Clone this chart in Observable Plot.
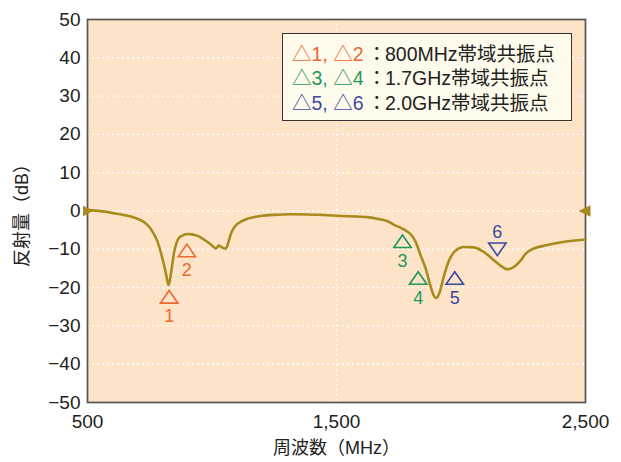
<!DOCTYPE html>
<html><head><meta charset="utf-8">
<script src="https://cdn.jsdelivr.net/npm/d3@7"></script>
<script src="https://cdn.jsdelivr.net/npm/@observablehq/plot@0.6"></script>
<style>
body{margin:0;background:#fff;}
#wrap{position:relative;width:621px;height:462px;font-family:"Liberation Sans","Noto Sans CJK JP",sans-serif;color:#222;}
#wrap svg{position:absolute;left:0;top:0;}
.legend{position:absolute;left:282px;top:33px;width:290px;height:88px;box-sizing:border-box;border:1.5px solid #333;background:#fffbec;}
.lg{position:absolute;font-size:19.5px;line-height:24px;height:24px;white-space:nowrap;}
</style></head><body><div id="wrap"></div>
<script>
// reflection curve (MHz, dB)
const freq = [500,560,607,650,687,727,750,761,780,794,805,814,820,825,830,837,848,858,868,885,902,920,942,962,982,1000,1015,1022,1028,1035,1042,1050,1055,1062,1069,1078,1089,1100,1116,1135,1156,1197,1250,1320,1384,1450,1518,1580,1625,1678,1710,1731,1758,1785,1800,1818,1838,1858,1878,1890,1898,1906,1915,1932,1952,1979,2012,2052,2092,2133,2166,2186,2213,2240,2260,2293,2347,2428,2500];
const refl = [0.3,-0.1,-0.6,-1.1,-1.7,-2.9,-4.3,-5.4,-7.8,-10.7,-13.5,-16.0,-18.0,-19.3,-18.3,-15.5,-10.7,-8.2,-7.0,-6.3,-6.0,-6.1,-6.5,-7.2,-8.1,-9.0,-9.8,-9.4,-9.0,-9.3,-9.6,-9.8,-9.8,-9.0,-7.4,-5.6,-4.3,-3.5,-2.8,-2.2,-1.8,-1.3,-1.0,-0.85,-0.9,-1.05,-1.3,-1.45,-1.6,-2.2,-2.8,-3.6,-4.4,-5.4,-6.2,-8.1,-11.6,-15.0,-19.7,-22.0,-22.7,-22.4,-21.1,-16.8,-12.9,-10.3,-9.4,-9.5,-10.7,-12.9,-14.6,-15.2,-14.6,-12.9,-11.1,-9.8,-8.9,-7.9,-7.5];

// resonance markers
const markerId = ["1","2","3","4","5","6"];
const markerFreq = [828,899,1765,1828,1975,2146];
const markerDb = [-22.4,-10.3,-7.9,-17.5,-17.5,-10.0];
const markerDir = ["up","up","up","up","up","down"];
const markerBand = [0,0,1,1,2,2];
const labelDb = [-27.5,-15.4,-13.0,-22.8,-22.8,-5.5];

const bandColors = ["#e9692f","#1c9a58","#3a4a9c"];
const legendMarks = ["△1, △2","△3, △4","△5, △6"];
const legendText = ["800MHz帯域共振点","1.7GHz帯域共振点","2.0GHz帯域共振点"];

const yTicks = [-50,-40,-30,-20,-10,0,10,20,30,40,50];
const xTicks = [500,1500,2500];
const refLevel = [0];

const curve = freq.map((f,i)=>({f, db: refl[i]}));
const markers = markerId.map((id,i)=>({id, f: markerFreq[i], db: markerDb[i], dir: markerDir[i], color: bandColors[markerBand[i]], ldb: labelDb[i]}));

const triUp = {draw(c){const w=8.7,h=6.3;c.moveTo(0,-h);c.lineTo(w,h);c.lineTo(-w,h);c.closePath();}};
const triDown = {draw(c){const w=8.7,h=6.3;c.moveTo(0,h);c.lineTo(w,-h);c.lineTo(-w,-h);c.closePath();}};
const triRight = {draw(c){c.moveTo(5,0);c.lineTo(-4.5,-5.5);c.lineTo(-4.5,5.5);c.closePath();}};
const triLeft = {draw(c){c.moveTo(-7,0);c.lineTo(5,-5.8);c.lineTo(5,5.8);c.closePath();}};

const fmtY = d => d < 0 ? "\u2212" + Math.abs(d) : String(d);
const lineColor = "#a88b1e";

const chart = Plot.plot({
  width: 621, height: 462,
  marginLeft: 87, marginRight: 36, marginTop: 19, marginBottom: 60,
  style: {fontFamily: '"Liberation Sans","Noto Sans CJK JP",sans-serif', fontSize: "19px", color: "#222", background: "transparent"},
  x: {domain: [500,2500], label: null},
  y: {domain: [-50,50], label: null},
  marks: [
    Plot.frame({fill: "#fde3c8", stroke: null}),
    Plot.ruleY(yTicks.filter(d => d > -50 && d < 50), {y: d => d, stroke: "white", strokeWidth: 1.4, strokeDasharray: "2,3"}),
    Plot.ruleX([1500], {x: d => d, stroke: "white", strokeWidth: 1.4, strokeDasharray: "2,3"}),
    Plot.frame({stroke: "#555", strokeWidth: 1.7}),
    Plot.axisY(yTicks, {tickSize: 0, tickPadding: 7, tickFormat: fmtY, fontSize: 19, label: null}),
    Plot.axisX(xTicks, {tickSize: 0, tickPadding: 12, tickFormat: d3.format(","), fontSize: 19, label: null}),
    Plot.text(["周波数（MHz）"], {frameAnchor: "bottom", dy: 46, fontSize: 18, textAnchor: "middle", lineAnchor: "middle"}),
    Plot.text(["反射量（dB）"], {frameAnchor: "left", dx: -65, rotate: -90, fontSize: 18, textAnchor: "middle", lineAnchor: "middle"}),
    Plot.line(curve, {x: "f", y: "db", stroke: lineColor, strokeWidth: 2.6, curve: "monotone-x"}),
    Plot.dot(markers.filter(d => d.dir === "up"), {x: "f", y: "db", symbol: triUp, stroke: "color", strokeWidth: 1.6, fill: "none"}),
    Plot.dot(markers.filter(d => d.dir === "down"), {x: "f", y: "db", symbol: triDown, stroke: "color", strokeWidth: 1.6, fill: "none"}),
    Plot.text(markers, {x: "f", y: "ldb", text: "id", fill: "color", fontSize: 18, lineAnchor: "middle"}),
    Plot.dot(refLevel, {x: () => 2500, y: d => d, symbol: triLeft, fill: lineColor, stroke: null}),
    Plot.dot(refLevel, {x: () => 500, y: d => d, symbol: triRight, fill: lineColor, stroke: null})
  ]
});

const wrap = document.getElementById("wrap");
wrap.appendChild(chart);
const lg = document.createElement("div");
lg.className = "legend";
wrap.appendChild(lg);
legendMarks.forEach((m, i) => {
  const top = 54 + i * 24.3 - 12;
  const a = document.createElement("div");
  a.className = "lg"; a.style.left = "292px"; a.style.top = top + "px"; a.style.color = bandColors[i]; a.textContent = m;
  const b = document.createElement("div");
  b.className = "lg"; b.style.left = "367px"; b.style.top = top + "px"; b.textContent = "：";
  const c = document.createElement("div");
  c.className = "lg"; c.style.left = "385px"; c.style.top = top + "px"; c.textContent = legendText[i];
  wrap.append(a, b, c);
});
</script></body></html>
